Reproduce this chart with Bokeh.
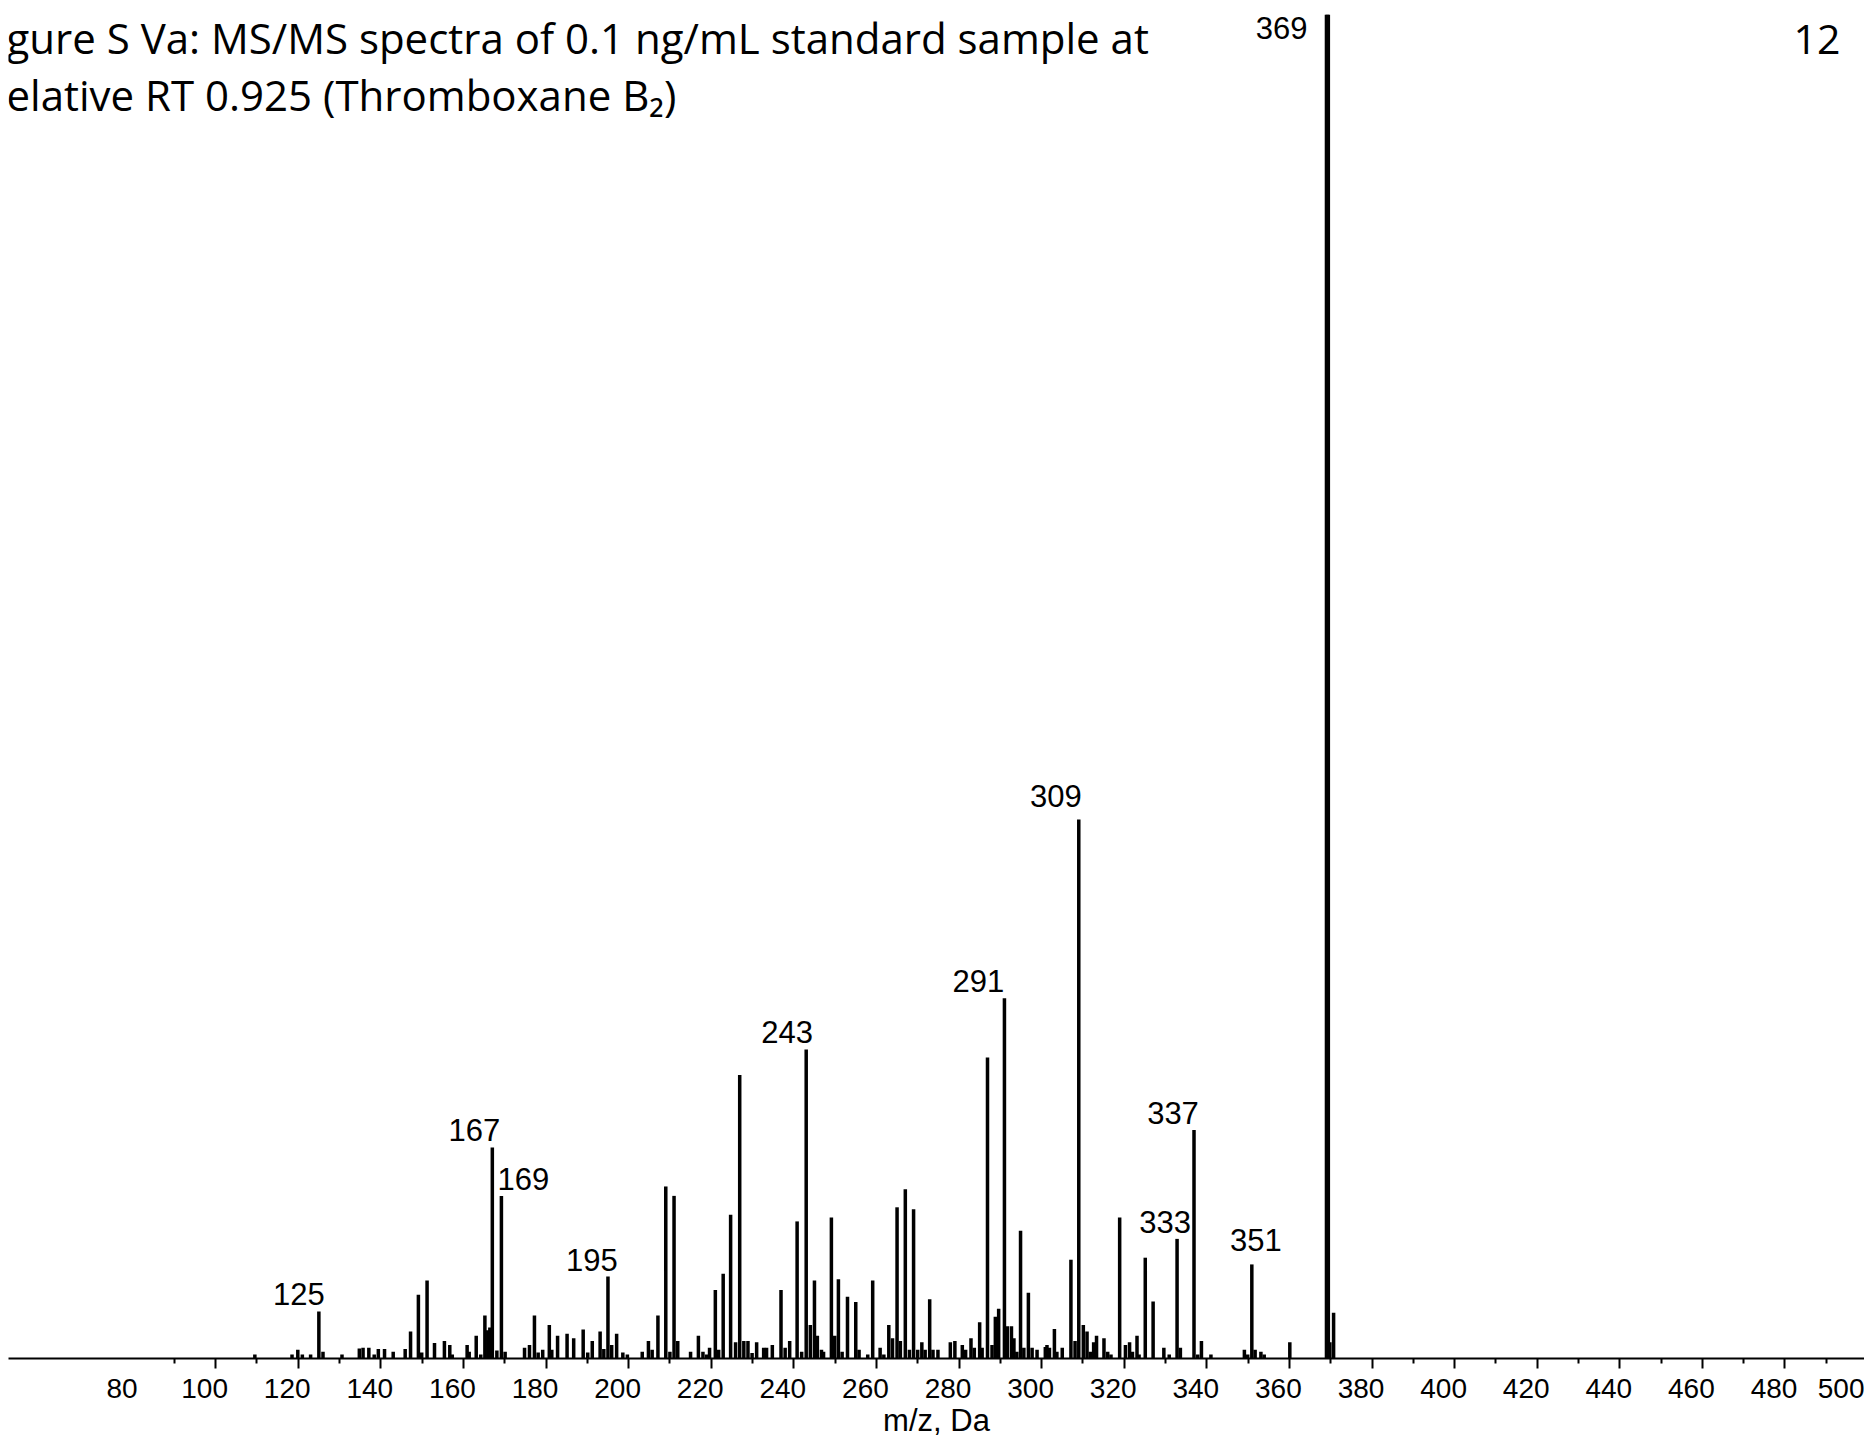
from bokeh.plotting import figure
from bokeh.models import Range1d, LinearAxis, FixedTicker, Label, ColumnDataSource
from bokeh.core.properties import value
from bokeh.embed import file_html
from bokeh.resources import INLINE

# ---- data: m/z (Da) and relative intensity (% of base peak) ----
mz = [109.5, 118.5, 119.9, 121.0, 123.0, 125.0, 126.0, 130.6, 134.8, 135.7,
      137.1, 138.4, 139.4, 140.9, 143.0, 145.9, 147.2, 149.1, 149.9, 151.2,
      153.0, 155.4, 156.7, 157.3, 160.9, 161.4, 163.1, 164.2, 165.2, 165.9,
      166.4, 167.0, 168.1, 169.2, 170.1,
      174.8, 176.0, 177.2, 178.1, 179.2, 180.8, 181.4, 182.8, 185.1, 186.7,
      189.0, 190.1, 191.2, 193.1, 194.0, 195.0, 195.9, 197.1, 198.6, 199.7,
      203.3, 204.8, 205.7, 207.1, 209.0, 210.0, 211.0, 211.9, 215.0, 216.9,
      218.0, 218.9, 219.6, 221.0, 221.8, 222.9, 224.7, 225.9, 226.9, 227.9,
      228.9, 229.9, 231.0, 232.7, 233.4, 234.8, 236.9, 237.9, 239.0, 240.8,
      241.9,
      243.0, 244.0, 245.0, 245.7, 246.7, 247.2, 249.1, 249.9, 250.8, 251.7,
      253.0, 255.0, 255.8, 257.9, 259.1, 260.9, 261.8, 263.0, 263.9, 265.0,
      265.8, 267.0, 268.0, 269.0, 270.0, 271.0, 271.8, 272.9, 273.7, 274.9,
      277.9, 279.0, 280.8, 281.6, 282.9, 283.7, 285.0, 285.6, 286.9, 288.0,
      288.8, 289.6, 291.0, 291.7, 292.7, 293.3, 294.0, 294.9, 295.7, 296.8,
      297.7, 298.9, 300.9, 301.3, 301.9, 303.1, 303.7, 305.0, 307.1, 308.1,
      309.0, 310.1, 311.0, 311.8, 312.6, 313.3,
      315.1, 316.0, 316.8, 318.9, 320.3, 321.3, 322.0, 323.1, 323.6, 325.1,
      327.0, 329.6, 330.9, 332.8, 333.6, 336.9, 337.8, 338.7, 341.0, 349.1,
      349.9, 350.9, 351.7, 353.1, 353.9, 360.1, 369.2, 369.8, 370.7]

intensity = [0.3, 0.3, 0.65, 0.3, 0.3, 3.5, 0.5, 0.3, 0.75, 0.8,
             0.8, 0.3, 0.7, 0.7, 0.5, 0.7, 2.0, 4.75, 0.45, 5.8,
             1.15, 1.3, 1.0, 0.3, 1.0, 0.5, 1.7, 0.3, 3.2, 2.1,
             2.3, 15.7, 0.6, 12.1, 0.5,
             0.8, 1.0, 3.2, 0.45, 0.65, 2.5, 0.65, 1.7, 1.85, 1.5,
             2.15, 0.45, 1.3, 2.0, 0.7, 6.1, 1.0, 1.85, 0.45, 0.3,
             0.5, 1.3, 0.65, 3.2, 12.8, 0.5, 12.1, 1.3, 0.5, 1.7,
             0.5, 0.3, 0.8, 5.1, 0.65, 6.3, 10.7, 1.2, 21.1, 1.3,
             1.3, 0.4, 1.2, 0.8, 0.8, 1.0, 5.1, 0.8, 1.3, 10.2,
             0.5,
             23.0, 2.5, 5.8, 1.7, 0.65, 0.5, 10.5, 1.7, 5.9, 0.5,
             4.6, 4.2, 0.65, 0.3, 5.8, 0.8, 0.3, 2.5, 1.5, 11.25,
             1.3, 12.6, 0.65, 11.1, 0.65, 1.2, 0.65, 4.4, 0.65, 0.65,
             1.2, 1.3, 1.0, 0.65, 1.5, 0.8, 2.7, 0.8, 22.4, 1.0,
             3.1, 3.7, 26.8, 2.4, 2.4, 1.5, 0.5, 9.5, 0.8, 4.9,
             0.8, 0.65, 0.85, 1.0, 0.8, 2.2, 0.5, 0.8, 7.35, 1.3,
             40.1, 2.5, 2.0, 0.5, 1.2, 1.7,
             1.5, 0.5, 0.3, 10.5, 1.0, 1.2, 0.5, 1.7, 0.3, 7.5,
             4.25, 0.8, 0.3, 8.9, 0.8, 17.0, 0.3, 1.3, 0.3, 0.65,
             0.3, 7.0, 0.65, 0.5, 0.3, 1.2, 100.0, 1.2, 3.4]

# annotated peaks (m/z of the bar) and their printed labels
label_mz = [125.0, 167.0, 169.2, 195.0, 243.0, 291.0, 309.0, 332.8, 336.9, 350.9]
label_text = ["125", "167", "169", "195", "243", "291", "309", "333", "337", "351"]
base_label_text = "369"

# axis ticks
tick_values = [80, 100, 120, 140, 160, 180, 200, 220, 240, 260, 280, 300,
               320, 340, 360, 380, 400, 420, 440, 460, 480, 500]
tick_labels = [str(t) for t in tick_values]
tick_marks = [100, 120, 140, 160, 180, 200, 220, 240, 260, 280, 300, 320,
              340, 360, 380, 400, 420, 440, 460, 480]
minor_marks = [90, 110, 130, 150, 170, 190, 210, 230, 250, 270, 290, 310,
               330, 350, 370, 390, 410, 430, 450, 470, 490]

title_line1 = "gure S Va: MS/MS spectra of 0.1 ng/mL standard sample at"
title_line2 = "elative RT 0.925 (Thromboxane B\u2082)"
page_number = "12"

# ---- layout / style ----
X0, X1 = 49.85, 499.25
LABEL_SHIFT_DA = 2.66          # tick labels sit a little left of their ticks
label_dx_px = {"125": -20, "167": -18, "169": 22, "195": -16, "243": -19,
               "291": -26, "309": -23, "333": -12, "337": -21, "351": 4}
label_dy_px = {"309": -7, "351": -7}

p = figure(width=1864, height=1440, x_range=Range1d(X0, X1), y_range=Range1d(0, 100),
           output_backend="svg", toolbar_location=None,
           x_axis_location=None, y_axis_location=None,
           min_border_left=8, min_border_right=0, min_border_top=14, min_border_bottom=81)
p.grid.visible = False
p.outline_line_color = None
p.background_fill_color = "white"
p.border_fill_color = "white"

# axis line with the short (10 Da) ticks; no labels
ax = LinearAxis(ticker=FixedTicker(ticks=[], minor_ticks=minor_marks))
ax.axis_line_width = 2
ax.axis_line_color = "black"
ax.major_tick_in = 0
ax.major_tick_out = 5
ax.minor_tick_in = 0
ax.minor_tick_out = 5
ax.minor_tick_line_width = 2
ax.minor_tick_line_color = "black"
ax.major_label_standoff = 0
p.add_layout(ax, "below")

# long (20 Da) ticks, tick numbers and axis title
p.extra_x_ranges = {"lab": Range1d(X0 + LABEL_SHIFT_DA, X1 + LABEL_SHIFT_DA)}
lab = LinearAxis(x_range_name="lab",
                 ticker=FixedTicker(ticks=tick_values,
                                    minor_ticks=[t + LABEL_SHIFT_DA for t in tick_marks]),
                 major_label_overrides={t: s for t, s in zip(tick_values, tick_labels)})
lab.axis_line_color = None
lab.major_tick_line_color = None
lab.major_tick_out = 5
lab.major_tick_in = 0
lab.minor_tick_in = 5
lab.minor_tick_out = 5
lab.minor_tick_line_width = 2
lab.minor_tick_line_color = "black"
lab.major_label_standoff = 10
lab.major_label_text_font = "Liberation Sans"
lab.major_label_text_font_size = "28px"
lab.major_label_text_color = "black"
lab.axis_label = "m/z, Da"
lab.axis_label_text_font = "Liberation Sans"
lab.axis_label_text_font_size = "31px"
lab.axis_label_text_font_style = "normal"
lab.axis_label_text_color = "black"
lab.axis_label_standoff = 2
p.add_layout(lab, "below")

# bars
src = ColumnDataSource(dict(mz=mz, inten=intensity))
p.vbar(x="mz", top="inten", bottom=0, width=0.85, source=src,
       fill_color="black", line_color=None)
ib = intensity.index(max(intensity))
p.vbar(x=[mz[ib]], top=[intensity[ib]], bottom=0, width=1.3,
       fill_color="black", line_color=None)

# peak labels
lab_y = [intensity[mz.index(m)] for m in label_mz]
lsrc = ColumnDataSource(dict(x=label_mz, y=lab_y, t=label_text,
                             dx=[label_dx_px[t] for t in label_text],
                             dy=[-17 + label_dy_px.get(t, 0) for t in label_text]))
p.text(x="x", y="y", text="t", x_offset="dx", y_offset="dy", source=lsrc,
       text_font=value("Liberation Sans"), text_font_size="31px",
       text_align="center", text_baseline="alphabetic", text_color="black")
p.text(x=[mz[ib]], y=[intensity[ib]], text=[base_label_text], x_offset=-20, y_offset=2,
       text_font=value("Liberation Sans"), text_font_size="31px",
       text_align="right", text_baseline="top", text_color="black")

# title and page number (slide text)
p.add_layout(Label(x=-2, y=1321, x_units="screen", y_units="screen", text=title_line1,
                   text_font="Open Sans", text_font_size="42px", text_color="black",
                   text_baseline="alphabetic", text_align="left"))
p.add_layout(Label(x=-2, y=1264, x_units="screen", y_units="screen", text=title_line2,
                   text_font="Open Sans", text_font_size="42px", text_color="black",
                   text_baseline="alphabetic", text_align="left"))
p.add_layout(Label(x=1832, y=1319, x_units="screen", y_units="screen", text=page_number,
                   text_font="Open Sans", text_font_size="41px", text_color="black",
                   text_baseline="alphabetic", text_align="right"))

open("out.html", "w").write(file_html(p, INLINE))
